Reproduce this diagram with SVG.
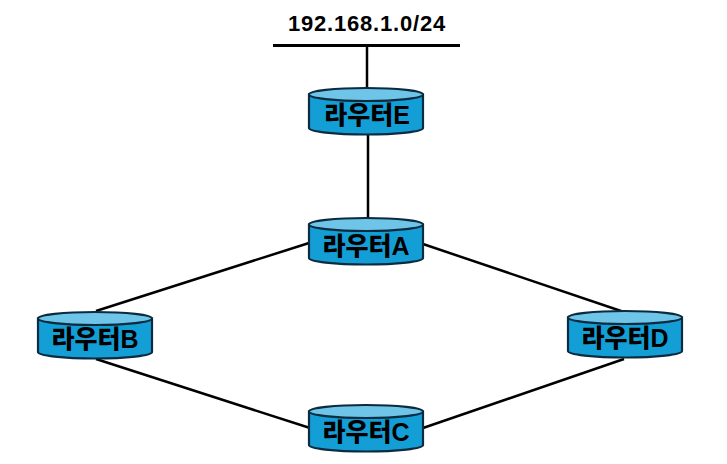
<svg xmlns="http://www.w3.org/2000/svg" width="727" height="464" viewBox="0 0 727 464">
<style>
.body{fill:#139fd6;stroke:#0b2b40;stroke-width:2.2}
.top{fill:#6ec5e8;stroke:#0b2b40;stroke-width:2.2}
.lbl{font-family:"Liberation Sans","Noto Sans CJK KR",sans-serif;font-weight:900;font-size:25px;fill:#000;text-anchor:middle}
.net{font-family:"Liberation Sans",Arial,sans-serif;font-weight:bold;font-size:22px;letter-spacing:0.8px;fill:#000;text-anchor:middle}
.ln{stroke:#000;stroke-width:2.5;fill:none}
</style>
<defs>
<g id="cyl">
<path class="body" d="M0,6.5 L0,40 A57,6.5 0 0 0 114,40 L114,6.5 Z"/>
<ellipse class="top" cx="57" cy="6.5" rx="57" ry="6.5"/>
</g>
</defs>
<rect width="727" height="464" fill="#fff"/>
<g id="network">
<text class="net" x="367" y="31">192.168.1.0/24</text>
<line x1="273" y1="45.5" x2="460" y2="45.5" stroke="#000" stroke-width="3"/>
</g>
<g id="connectors">
<line class="ln" x1="367" y1="45" x2="367" y2="88"/>
<line class="ln" x1="368" y1="135" x2="368" y2="219"/>
<line class="ln" x1="309" y1="243" x2="96" y2="311"/>
<line class="ln" x1="423" y1="244" x2="624" y2="312"/>
<line class="ln" x1="96" y1="359" x2="310" y2="428"/>
<line class="ln" x1="423" y1="428" x2="624" y2="359"/>
</g>
<g id="routerE">
<use href="#cyl" x="309" y="88"/>
<text class="lbl" x="367" y="124">라우터E</text>
</g>
<g id="routerA">
<use href="#cyl" x="309" y="218"/>
<text class="lbl" x="366" y="255">라우터A</text>
</g>
<g id="routerB">
<use href="#cyl" x="38" y="312"/>
<text class="lbl" x="95" y="348">라우터B</text>
</g>
<g id="routerD">
<use href="#cyl" x="568" y="311"/>
<text class="lbl" x="625" y="347">라우터D</text>
</g>
<g id="routerC">
<use href="#cyl" x="309" y="405"/>
<text class="lbl" x="366" y="441">라우터C</text>
</g>
</svg>
